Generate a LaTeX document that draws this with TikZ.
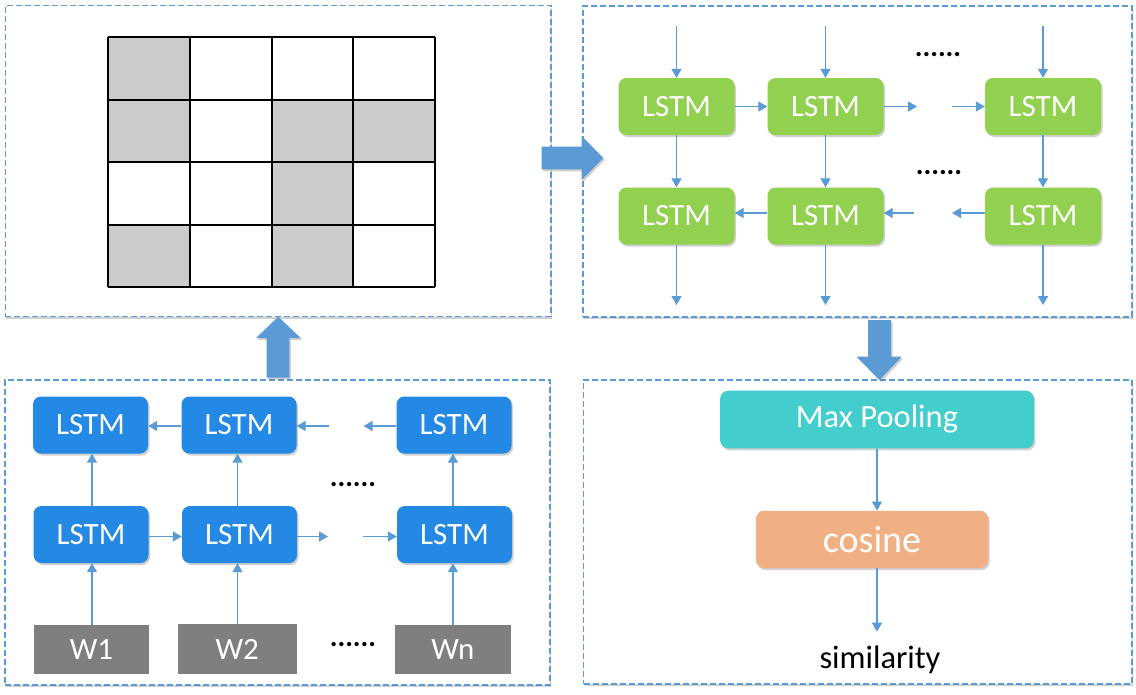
\documentclass[tikz,border=0pt]{standalone}
\usepackage{fontspec}
\setmainfont{Carlito}
\usetikzlibrary{arrows.meta,shadows}
\definecolor{conn}{HTML}{5B9BD5}
\definecolor{lblue}{HTML}{2389E4}
\definecolor{lgreen}{HTML}{92D050}
\definecolor{tealbox}{HTML}{43CDCD}
\definecolor{salmon}{HTML}{F0B084}
\definecolor{wgray}{HTML}{7F7F7F}
\definecolor{cellgray}{HTML}{CBCBCB}
\begin{document}
\begin{tikzpicture}[x=1pt,y=-1pt,
  panel/.style={draw=conn, line width=1.5pt, dash pattern=on 6pt off 3pt, fill=white, inner sep=0pt,
    drop shadow={shadow xshift=1pt, shadow yshift=-2pt, opacity=0.3, fill=black!60}},
  lstmbox/.style={rounded corners=8pt, minimum width=115pt, minimum height=57pt, inner sep=0pt,
    text=white, font=\fontsize{31}{36}\selectfont,
    drop shadow={shadow xshift=1.5pt, shadow yshift=-2pt, opacity=0.3, fill=black!60}},
  bbox/.style={lstmbox, fill=lblue},
  gbox/.style={lstmbox, fill=lgreen, minimum width=116pt},
  wbox/.style={fill=wgray, text=white, minimum height=49.5pt, inner sep=0pt, font=\fontsize{31}{36}\selectfont},
  link/.style={draw=conn, line width=1.3pt, -{Triangle[length=9pt,width=10pt]}},
  blockarrow/.style={fill=conn, drop shadow={shadow xshift=1.5pt, shadow yshift=-2pt, opacity=0.3, fill=black!60}},
  dots/.style={font=\fontsize{29}{30}\selectfont\bfseries, anchor=base, inner sep=0pt},
]
\useasboundingbox (0,0) rectangle (1136,694);
\fill[white] (0,0) rectangle (1136,694);

% panels
\node[panel, minimum width=545.6pt, minimum height=311pt] (ptl) at (278.2,161) {};
\node[panel, minimum width=549pt, minimum height=311pt] (ptr) at (857.5,161.5) {};
\node[panel, minimum width=545pt, minimum height=305pt] (pbl) at (277.7,532.5) {};
\node[panel, minimum width=548.4pt, minimum height=304pt] (pbr) at (857.8,532) {};

% grid
\foreach \c/\r in {0/0,0/1,2/1,3/1,2/2,0/3,2/3}
  \fill[cellgray] (108+\c*81.75, 37+\r*62.5) rectangle ++(81.75,62.5);
\foreach \i in {0,...,4} {
  \draw[line width=2pt] (108+\i*81.75,37) -- (108+\i*81.75,287);
  \draw[line width=2pt] (108,37+\i*62.5) -- (435,37+\i*62.5);
}

% block arrows
\fill[blockarrow] (541.7,146.7) -- (581.7,146.7) -- (581.7,136) -- (603.3,158) -- (581.7,180) -- (581.7,169.3) -- (541.7,169.3) -- cycle;
\fill[blockarrow] (266.7,377.7) -- (266.7,338) -- (256,338) -- (278.3,316.7) -- (300.7,338) -- (289.3,338) -- (289.3,377.7) -- cycle;
\fill[blockarrow] (868,320) -- (891,320) -- (891,356.7) -- (901.7,356.7) -- (879.5,380) -- (856.7,356.7) -- (868,356.7) -- cycle;

% top-right: green LSTMs
\node[gbox] (g11) at (676.5,106.5) {LSTM};
\node[gbox] (g12) at (825.5,106.5) {LSTM};
\node[gbox] (g13) at (1043,106.5) {LSTM};
\node[gbox] (g21) at (676.5,216) {LSTM};
\node[gbox] (g22) at (825.5,216) {LSTM};
\node[gbox] (g23) at (1043,216) {LSTM};
\coordinate (gin1) at (676.5,26);
\coordinate (gin2) at (825.5,26);
\coordinate (gin3) at (1043,26);
\coordinate (gout1) at (676.5,305);
\coordinate (gout2) at (825.5,305);
\coordinate (gout3) at (1043,305);
\foreach \n in {1,2,3} {
  \draw[link] (gin\n) -- (g1\n.north);
  \draw[link] (g1\n.south) -- (g2\n.north);
  \draw[link] (g2\n.south) -- (gout\n);
}
\coordinate (ga1) at (917,106.5);
\coordinate (ga2) at (952,106.5);
\coordinate (gb1) at (914,213);
\coordinate (gb2) at (952,213);
\draw[link] (g11.east) -- (g12.west);
\draw[link] (g12.east) -- (ga1);
\draw[link] (ga2) -- (g13.west);
\draw[link] (g22.west |- gb1) -- (g21.east |- gb1);
\draw[link] (gb1) -- (g22.east |- gb1);
\draw[link] (g23.west |- gb2) -- (gb2);
\node[dots] (gd1) at (938,56) {......};
\node[dots] (gd2) at (939,174) {......};

% bottom-left: blue LSTMs
\node[bbox] (b11) at (90.5,425) {LSTM};
\node[bbox] (b12) at (239,425) {LSTM};
\node[bbox] (b13) at (454,425) {LSTM};
\node[bbox] (b21) at (91,534.5) {LSTM};
\node[bbox] (b22) at (239.5,534.5) {LSTM};
\node[bbox] (b23) at (454.5,534.5) {LSTM};
\node[wbox, minimum width=115pt] (w1) at (91.5,649.5) {W1};
\node[wbox, minimum width=119.5pt] (w2) at (237.3,649) {W2};
\node[wbox, minimum width=116.5pt] (wn) at (452.8,649.5) {Wn};
\coordinate (xa) at (92,0);
\coordinate (xb) at (237.5,0);
\coordinate (xc) at (453,0);
\draw[link] (w1.north -| xa) -- (b21.south -| xa);
\draw[link] (w2.north -| xb) -- (b22.south -| xb);
\draw[link] (wn.north -| xc) -- (b23.south -| xc);
\draw[link] (b21.north -| xa) -- (b11.south -| xa);
\draw[link] (b22.north -| xb) -- (b12.south -| xb);
\draw[link] (b23.north -| xc) -- (b13.south -| xc);
\coordinate (ba1) at (328,536.5);
\coordinate (ba2) at (362.5,536.5);
\coordinate (bb1) at (328.6,426);
\coordinate (bb2) at (363.6,426);
\draw[link] (b21.east |- ba1) -- (b22.west |- ba1);
\draw[link] (b22.east |- ba1) -- (ba1);
\draw[link] (ba2) -- (b23.west |- ba2);
\draw[link] (b12.west |- bb1) -- (b11.east |- bb1);
\draw[link] (bb1) -- (b12.east |- bb1);
\draw[link] (b13.west |- bb2) -- (bb2);
\node[dots] (bd1) at (353,486) {......};
\node[dots] (bd2) at (353,646) {......};

% bottom-right
\node[lstmbox, fill=tealbox, minimum width=313.6pt, minimum height=57.6pt, font=\fontsize{32.5}{38}\selectfont] (mp) at (877,419.5) {Max Pooling};
\node[lstmbox, fill=salmon, minimum width=232pt, minimum height=57.3pt, font=\fontsize{38}{42}\selectfont] (cos) at (872,539.4) {cosine};
\draw[link] (mp.south) -- (mp.south |- cos.north);
\coordinate (simtop) at (877,631.7);
\draw[link] (cos.south -| simtop) -- (simtop);
\node[font=\fontsize{32.5}{38}\selectfont, inner sep=0pt] (sim) at (880,660) {similarity};
\end{tikzpicture}
\end{document}
